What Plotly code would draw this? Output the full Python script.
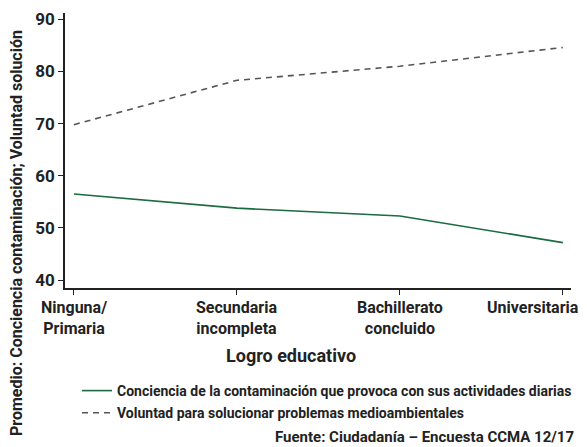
import plotly.graph_objects as go

# Datos.
NIVELES = ["Ninguna/<br>Primaria", "Secundaria<br>incompleta", "Bachillerato<br>concluido", "Universitaria"]
CONCIENCIA = [56.5, 53.8, 52.3, 47.2]
VOLUNTAD = [69.8, 78.3, 81.0, 84.6]
Y_TICKS = [40, 50, 60, 70, 80, 90]

VERDE = "#1b6b3e"
GRIS = "#555555"
TEXTO = "#222222"
FUENTE = "Roboto"

# La página deja 8 px de margen en el body, así que la figura es 8 px más chica.
ANCHO, ALTO = 579, 439
M_IZQ, M_DER, M_SUP, M_INF = 57, 16, 5, 159
alto_plot = ALTO - M_SUP - M_INF
ancho_plot = ANCHO - M_IZQ - M_DER


def px_x(x):
    # Coordenada x de la página (referencia) a coordenada de papel.
    return (x - 8 - M_IZQ) / ancho_plot


def px_y(y):
    # Coordenada y de la página (referencia) a coordenada de papel.
    return (ALTO - M_INF - (y - 8)) / alto_plot


fig = go.Figure()

fig.add_trace(
    go.Scatter(
        x=list(range(len(NIVELES))),
        y=CONCIENCIA,
        mode="lines",
        line=dict(color=VERDE, width=1.6),
        legendgroup="a",
        name="<b>Conciencia de la contaminación que provoca con sus actividades diarias</b>",
    )
)

fig.add_trace(
    go.Scatter(
        x=list(range(len(NIVELES))),
        y=VOLUNTAD,
        mode="lines",
        line=dict(color=GRIS, width=1.6, dash="6px,5px"),
        legendgroup="b",
        name="<b>Voluntad para solucionar problemas medioambientales</b>",
    )
)

# Las etiquetas del eje x van como anotaciones para poder alinear la última.
anotaciones = []
for i, nivel in enumerate(NIVELES):
    ultima = i == len(NIVELES) - 1
    anotaciones.append(
        dict(
            x=i,
            xref="x",
            y=0,
            yref="paper",
            yanchor="top",
            xanchor="right" if ultima else "center",
            xshift=18 if ultima else 0,
            yshift=-8,
            text=f"<b>{nivel}</b>",
            showarrow=False,
            font=dict(size=16, color=TEXTO),
        )
    )

fig.update_xaxes(
    range=[-0.055, 3.05],
    tickvals=list(range(len(NIVELES))),
    showticklabels=False,
    ticks="outside",
    ticklen=5,
    tickcolor=TEXTO,
    showline=True,
    linecolor=TEXTO,
    linewidth=1.5,
    showgrid=False,
    zeroline=False,
    automargin=False,
)

fig.update_yaxes(
    range=[38.5, 91.2],
    tickvals=Y_TICKS,
    ticktext=[f"<b>{v}</b>" for v in Y_TICKS],
    ticks="outside",
    ticklen=5,
    tickcolor=TEXTO,
    showline=True,
    linecolor=TEXTO,
    linewidth=1.5,
    showgrid=False,
    zeroline=False,
    automargin=False,
    tickfont=dict(size=17, color=TEXTO),
)

fig.update_layout(
    width=ANCHO,
    height=ALTO,
    plot_bgcolor="#FFFFFF",
    paper_bgcolor="#FFFFFF",
    font_family=FUENTE,
    font_color=TEXTO,
    margin=dict(l=M_IZQ, r=M_DER, t=M_SUP, b=M_INF, autoexpand=False),
    showlegend=True,
    legend=dict(
        x=px_x(77),
        y=px_y(375),
        xanchor="left",
        yanchor="top",
        font=dict(size=14, color=TEXTO, family=FUENTE),
        bgcolor="rgba(0,0,0,0)",
        traceorder="grouped",
        tracegroupgap=1,
        itemwidth=30,
    ),
    annotations=anotaciones + [
        dict(
            x=px_x(16),
            xref="paper",
            y=px_y(233),
            yref="paper",
            xanchor="center",
            yanchor="middle",
            text="<b>Promedio: Conciencia contaminación; Voluntad solución</b>",
            textangle=-90,
            showarrow=False,
            font=dict(size=16, color=TEXTO),
        ),
        dict(
            x=px_x(291),
            xref="paper",
            y=px_y(355),
            yref="paper",
            xanchor="center",
            yanchor="middle",
            text="<b>Logro educativo</b>",
            showarrow=False,
            font=dict(size=18, color=TEXTO),
        ),
        dict(
            x=px_x(576),
            xref="paper",
            y=px_y(437),
            yref="paper",
            xanchor="right",
            yanchor="middle",
            text="<b>Fuente: Ciudadanía – Encuesta CCMA 12/17</b>",
            showarrow=False,
            font=dict(size=15, color=TEXTO),
        ),
    ],
)

fig.write_html("out.html")
